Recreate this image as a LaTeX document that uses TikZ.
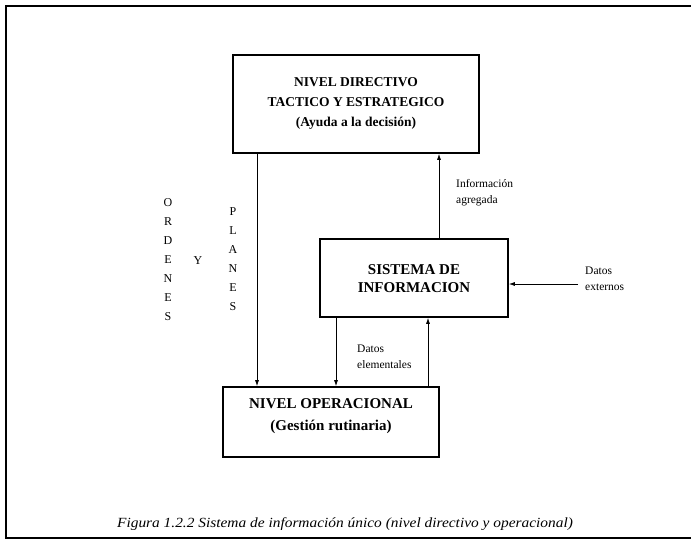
\documentclass[tikz,border=0pt]{standalone}
\usepackage{fontspec}
\setmainfont{Liberation Serif}
\usetikzlibrary{arrows.meta}
\begin{document}
\begin{tikzpicture}[x=1pt,y=-1pt,
  box/.style={draw,line width=1.6pt,inner sep=0pt},
  boxtext/.style={align=center,inner sep=0pt},
  arr/.style={line width=0.8pt,-{Latex[length=6pt,width=4pt]}},
  lbl/.style={font=\fontsize{11.5}{16}\selectfont,align=left,inner sep=0pt,anchor=west},
  vlet/.style={font=\fontsize{12}{19}\selectfont,align=center,inner sep=0pt}]
  % page area and outer frame (open on the right)
  \useasboundingbox (0,0) rectangle (691,541);
  \draw[line width=1.6pt] (691,6) -- (6,6) -- (6,538) -- (691,538);

  % boxes
  \node[box,minimum width=246pt,minimum height=98pt] (dir) at (356,104) {};
  \node[boxtext,font=\bfseries\fontsize{13.5}{20}\selectfont] (dirtxt) at (356,103)
    {NIVEL DIRECTIVO\\TACTICO Y ESTRATEGICO\\(Ayuda a la decisión)};
  \node[box,minimum width=188pt,minimum height=78pt] (sis) at (414,278) {};
  \node[boxtext,font=\bfseries\fontsize{15}{18}\selectfont] (sistxt) at (414,279)
    {SISTEMA DE\\INFORMACION};
  \node[box,minimum width=216pt,minimum height=70pt] (op) at (331,422) {};
  \node[boxtext,font=\bfseries\fontsize{15}{22}\selectfont] (optxt) at (331,416)
    {NIVEL OPERACIONAL\\(Gestión rutinaria)};

  % vertical guide positions for the connectors
  \coordinate (xo) at (257,0);
  \coordinate (xa) at (439,0);
  \coordinate (xd) at (336,0);
  \coordinate (xu) at (428,0);
  \coordinate (ext) at (578,284);

  % connectors
  \draw[arr] (dir.south -| xo) -- (op.north -| xo);
  \draw[arr] (sis.north -| xa) -- (dir.south -| xa);
  \draw[arr] (sis.south -| xd) -- (op.north -| xd);
  \draw[arr] (op.north -| xu) -- (sis.south -| xu);
  \draw[arr] (ext) -- (sis.east |- ext);

  % labels
  \node[lbl] (infag) at (456,193) {Información\\agregada};
  \node[lbl] (datel) at (357,357) {Datos\\elementales};
  \node[lbl] (datex) at (585,279) {Datos\\externos};

  \node[vlet] (ord) at (168,260) {O\\R\\D\\E\\N\\E\\S};
  \node[vlet] (y) at (198,261) {Y};
  \node[vlet] (pla) at (233,259) {P\\L\\A\\N\\E\\S};

  % caption
  \node[font=\itshape\fontsize{14}{16}\selectfont,inner sep=0pt,xscale=1.1] (cap) at (345,524)
    {Figura 1.2.2 Sistema de información único (nivel directivo y operacional)};
\end{tikzpicture}
\end{document}
